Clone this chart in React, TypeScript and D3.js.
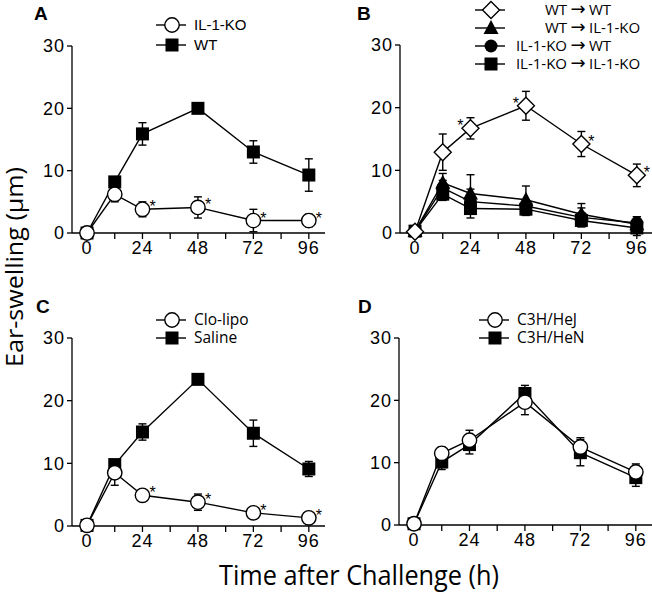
import React from "react";
import * as d3 from "d3";

const hours = [0, 12, 24, 48, 72, 96];
const xTicks = [0, 24, 48, 72, 96];
const xMinor = [12, 36, 60, 84];
const yTicks = [0, 10, 20, 30];

// panel A
const aKO = [0, 6.2, 3.8, 4.1, 2.0, 2.0];
const aKOErr = [0, 1.2, 1.2, 1.7, 1.8, 1.0];
const aWT = [0, 8.2, 15.9, 20.0, 13.0, 9.3];
const aWTErr = [0, 0.7, 1.8, 0.3, 1.8, 2.6];
const aStars = [0, 0, 1, 1, 1, 1];

// panel B
const bWW = [0.2, 12.9, 16.7, 20.3, 14.2, 9.2];
const bWWErr = [0, 2.9, 1.7, 2.3, 2.0, 1.8];
const bWWStars = [0, 0, -1, -1, 1, 1];
const bWK = [0.3, 8.0, 6.3, 5.3, 3.0, 1.4];
const bWKErr = [0, 1.5, 3.0, 2.2, 1.7, 1.2];
const bKW = [0.3, 7.2, 5.0, 4.3, 2.5, 1.6];
const bKWErr = [0, 1.2, 2.0, 1.0, 1.5, 1.0];
const bKK = [0.3, 6.2, 3.9, 3.8, 2.0, 0.8];
const bKKErr = [0, 1.0, 1.5, 1.0, 1.0, 1.2];

// panel C
const cClo = [0.1, 8.5, 4.9, 3.8, 2.1, 1.3];
const cCloErr = [0, 2.0, 0.5, 1.3, 0.4, 0.4];
const cSal = [0.1, 9.8, 15.0, 23.4, 14.8, 9.1];
const cSalErr = [0, 0.6, 1.3, 0.3, 2.1, 1.2];
const cStars = [0, 0, 1, 1, 1, 1];

// panel D
const dHeJ = [0.2, 11.5, 13.6, 19.7, 12.5, 8.5];
const dHeJErr = [0, 1.0, 1.6, 2.0, 1.5, 1.3];
const dHeN = [0.2, 10.1, 12.9, 21.1, 11.6, 7.6];
const dHeNErr = [0, 1.2, 1.5, 1.3, 2.1, 1.4];

type Shape = "circle" | "square" | "diamond" | "triangle" | "dot";

interface Series {
  values: number[];
  err: number[];
  shape: Shape;
  stars?: number[];
}

interface LegendRow {
  shape: Shape;
  label?: string;
  donor?: string;
  recipient?: string;
}

const tickFont = "'Liberation Sans', Arial, sans-serif";
const softFont = "'Open Sans', 'Noto Sans', sans-serif";

function Marker({ shape, x, y }: { shape: Shape; x: number; y: number }) {
  const sw = 1.4;
  if (shape === "circle")
    return <circle cx={x} cy={y} r={7.2} fill="#fff" stroke="#000" strokeWidth={sw} />;
  if (shape === "dot") return <circle cx={x} cy={y} r={6.5} fill="#000" />;
  if (shape === "square")
    return <rect x={x - 6.5} y={y - 6.5} width={13} height={13} fill="#000" />;
  if (shape === "diamond")
    return (
      <path
        d={`M${x},${y - 8.5}L${x + 8.5},${y}L${x},${y + 8.5}L${x - 8.5},${y}Z`}
        fill="#fff"
        stroke="#000"
        strokeWidth={sw}
      />
    );
  return <path d={`M${x},${y - 8}L${x + 7.5},${y + 6}L${x - 7.5},${y + 6}Z`} fill="#000" />;
}

interface PanelProps {
  left: number;
  top: number;
  bottom: number;
  letter: string;
  letterX: number;
  letterY: number;
  series: Series[];
  legend: LegendRow[];
  legendX: number;
  legendY: number;
  legendStep: number;
  legendFont: string;
  legendSize: number;
  arrows?: boolean;
}

function Panel(p: PanelProps) {
  const x = d3.scaleLinear().domain([-6.5, 103]).range([p.left, p.left + 253]);
  const y = d3.scaleLinear().domain([0, 30]).range([p.bottom, p.top]);
  const line = d3
    .line<number>()
    .x((_, i) => x(hours[i]))
    .y((d) => y(d));

  return (
    <g>
      <text
        x={p.letterX}
        y={p.letterY}
        fontFamily={tickFont}
        fontWeight="bold"
        fontSize={19}
      >
        {p.letter}
      </text>
      {/* axes */}
      <line x1={p.left} x2={p.left} y1={y(30)} y2={y(0)} stroke="#000" strokeWidth={1.3} />
      <line x1={p.left} x2={x(103)} y1={y(0)} y2={y(0)} stroke="#000" strokeWidth={1.3} />
      {yTicks.map((t) => (
        <g key={"y" + t}>
          <line x1={p.left - 5} x2={p.left} y1={y(t)} y2={y(t)} stroke="#000" strokeWidth={1.3} />
          <text
            x={p.left - 7}
            y={y(t)}
            dy="0.35em"
            textAnchor="end"
            fontFamily={tickFont}
            fontSize={18}
            letterSpacing={1}
          >
            {t}
          </text>
        </g>
      ))}
      {xTicks.concat(xMinor).map((t) => (
        <line
          key={"x" + t}
          x1={x(t)}
          x2={x(t)}
          y1={y(0)}
          y2={y(0) + 6}
          stroke="#000"
          strokeWidth={1.3}
        />
      ))}
      {xTicks.map((t) => (
        <text
          key={"xl" + t}
          x={x(t)}
          y={y(0) + 21}
          textAnchor="middle"
          fontFamily={tickFont}
          fontSize={18}
          letterSpacing={1}
        >
          {t}
        </text>
      ))}
      {/* lines */}
      {p.series.map((s, si) => (
        <path key={"l" + si} d={line(s.values) || ""} fill="none" stroke="#000" strokeWidth={1.4} />
      ))}
      {/* error bars */}
      {p.series.map((s, si) =>
        s.values.map((v, i) =>
          s.err[i] > 0 ? (
            <g key={"e" + si + "-" + i} stroke="#000" strokeWidth={1.4}>
              <line x1={x(hours[i])} x2={x(hours[i])} y1={y(v - s.err[i])} y2={y(v + s.err[i])} />
              <line
                x1={x(hours[i]) - 4}
                x2={x(hours[i]) + 4}
                y1={y(v + s.err[i])}
                y2={y(v + s.err[i])}
              />
              <line
                x1={x(hours[i]) - 4}
                x2={x(hours[i]) + 4}
                y1={y(v - s.err[i])}
                y2={y(v - s.err[i])}
              />
            </g>
          ) : null
        )
      )}
      {/* markers */}
      {p.series.map((s, si) =>
        s.values.map((v, i) => <Marker key={"m" + si + "-" + i} shape={s.shape} x={x(hours[i])} y={y(v)} />)
      )}
      {p.series.map((s, si) =>
        (s.stars || []).map((st, i) =>
          st !== 0 ? (
            <text
              key={"s" + si + "-" + i}
              x={x(hours[i]) + (st > 0 ? 7 : -7)}
              y={y(s.values[i]) + 3}
              textAnchor={st > 0 ? "start" : "end"}
              fontFamily={tickFont}
              fontSize={16}
            >
              *
            </text>
          ) : null
        )
      )}
      {/* legend */}
      {p.legend.map((r, i) => {
        const ly = p.legendY + i * p.legendStep;
        return (
          <g key={"lg" + i}>
            <line x1={p.legendX - 16} x2={p.legendX + 14} y1={ly} y2={ly} stroke="#000" strokeWidth={1.4} />
            <Marker shape={r.shape} x={p.legendX} y={ly} />
            {p.arrows ? (
              <g fontSize={p.legendSize}>
                <text x={567} y={ly} dy="0.35em" textAnchor="end" fontFamily={p.legendFont}>
                  {r.donor}
                </text>
                <text
                  x={578}
                  y={ly}
                  dy="0.3em"
                  textAnchor="middle"
                  fontFamily="'DejaVu Sans', sans-serif"
                  fontSize={18}
                >
                  {"\u2192"}
                </text>
                <text x={589} y={ly} dy="0.35em" fontFamily={p.legendFont}>
                  {r.recipient}
                </text>
              </g>
            ) : (
              <text
                x={p.legendX + 22}
                y={ly}
                dy="0.35em"
                fontFamily={p.legendFont}
                fontSize={p.legendSize}
              >
                {r.label}
              </text>
            )}
          </g>
        );
      })}
    </g>
  );
}

export default function App() {
  return (
    <svg
      width={652}
      height={592}
      style={{ position: "absolute", left: 0, top: 0, background: "#fff" }}
    >
      <Panel
        left={72}
        top={46}
        bottom={233}
        letter="A"
        letterX={34}
        letterY={20}
        series={[
          { values: aWT, err: aWTErr, shape: "square" },
          { values: aKO, err: aKOErr, shape: "circle", stars: aStars },
        ]}
        legend={[
          { shape: "circle", label: "IL-1-KO" },
          { shape: "square", label: "WT" },
        ]}
        legendX={172}
        legendY={25}
        legendStep={20}
        legendFont={tickFont}
        legendSize={15}
      />
      <Panel
        left={400}
        top={45}
        bottom={233}
        letter="B"
        letterX={357}
        letterY={20}
        series={[
          { values: bKK, err: bKKErr, shape: "square" },
          { values: bKW, err: bKWErr, shape: "dot" },
          { values: bWK, err: bWKErr, shape: "triangle" },
          { values: bWW, err: bWWErr, shape: "diamond", stars: bWWStars },
        ]}
        legend={[
          { shape: "diamond", donor: "WT", recipient: "WT" },
          { shape: "triangle", donor: "WT", recipient: "IL-1-KO" },
          { shape: "dot", donor: "IL-1-KO", recipient: "WT" },
          { shape: "square", donor: "IL-1-KO", recipient: "IL-1-KO" },
        ]}
        legendX={491}
        legendY={10}
        legendStep={18}
        legendFont={softFont}
        legendSize={15}
        arrows
      />
      <Panel
        left={72}
        top={338}
        bottom={526}
        letter="C"
        letterX={36}
        letterY={313}
        series={[
          { values: cSal, err: cSalErr, shape: "square" },
          { values: cClo, err: cCloErr, shape: "circle", stars: cStars },
        ]}
        legend={[
          { shape: "circle", label: "Clo-lipo" },
          { shape: "square", label: "Saline" },
        ]}
        legendX={172}
        legendY={320}
        legendStep={18}
        legendFont={softFont}
        legendSize={15.5}
      />
      <Panel
        left={399}
        top={338}
        bottom={525}
        letter="D"
        letterX={358}
        letterY={313}
        series={[
          { values: dHeN, err: dHeNErr, shape: "square" },
          { values: dHeJ, err: dHeJErr, shape: "circle" },
        ]}
        legend={[
          { shape: "circle", label: "C3H/HeJ" },
          { shape: "square", label: "C3H/HeN" },
        ]}
        legendX={495}
        legendY={320}
        legendStep={18}
        legendFont={softFont}
        legendSize={15.5}
      />
      <text
        transform="translate(23,267) rotate(-90)"
        textAnchor="middle"
        fontFamily={softFont}
        fontSize={24}
        textLength={200}
        lengthAdjust="spacingAndGlyphs"
      >
        Ear-swelling (μm)
      </text>
      <text
        x={359}
        y={585}
        textAnchor="middle"
        fontFamily={softFont}
        fontSize={27}
        textLength={280}
        lengthAdjust="spacingAndGlyphs"
      >
        Time after Challenge (h)
      </text>
    </svg>
  );
}
